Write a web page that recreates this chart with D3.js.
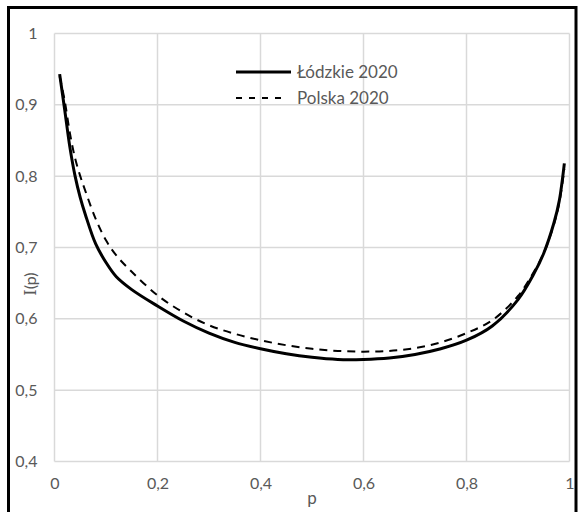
<!DOCTYPE html>
<html>
<head>
<meta charset="utf-8">
<script src="https://cdn.jsdelivr.net/npm/d3@7"></script>
<style>
  html, body { margin: 0; padding: 0; background: #fff; }
  svg { display: block; }
  text { font-family: Lato, "Open Sans", sans-serif; fill: #595959; }
</style>
</head>
<body>
<svg id="chart" width="578" height="512"></svg>
<script>
// Share of population p (x) and index value I(p) (y)
const pLodzkie = [0.01, 0.02, 0.03, 0.04, 0.05, 0.06, 0.08, 0.10, 0.12, 0.15, 0.20, 0.25, 0.30, 0.35, 0.40, 0.45, 0.50, 0.55, 0.60, 0.65, 0.70, 0.75, 0.80, 0.85, 0.90, 0.93, 0.95, 0.97, 0.98, 0.99];
const iLodzkie = [0.943, 0.892, 0.840, 0.800, 0.770, 0.746, 0.705, 0.679, 0.659, 0.641, 0.618, 0.597, 0.580, 0.567, 0.558, 0.551, 0.546, 0.543, 0.543, 0.545, 0.550, 0.558, 0.570, 0.590, 0.627, 0.662, 0.692, 0.735, 0.765, 0.818];

const pPolska = [0.01, 0.02, 0.03, 0.04, 0.05, 0.06, 0.08, 0.10, 0.12, 0.15, 0.20, 0.25, 0.30, 0.35, 0.40, 0.45, 0.50, 0.55, 0.60, 0.65, 0.70, 0.75, 0.80, 0.85, 0.90, 0.93, 0.95, 0.97, 0.98, 0.99];
const iPolska = [0.940, 0.905, 0.860, 0.825, 0.800, 0.779, 0.740, 0.710, 0.689, 0.666, 0.633, 0.609, 0.591, 0.579, 0.570, 0.563, 0.558, 0.555, 0.554, 0.555, 0.559, 0.567, 0.580, 0.598, 0.632, 0.665, 0.692, 0.733, 0.762, 0.810];

const xTicks = [0, 0.2, 0.4, 0.6, 0.8, 1];
const yTicks = [0.4, 0.5, 0.6, 0.7, 0.8, 0.9, 1];
const seriesNames = ["Łódzkie 2020", "Polska 2020"];

const svg = d3.select("#chart");
const plotLeft = 54.5, plotRight = 569.5, plotTop = 33.5, plotBottom = 461.5;

const x = d3.scaleLinear().domain([0, 1]).range([plotLeft, plotRight]);
const y = d3.scaleLinear().domain([0.4, 1]).range([plotBottom, plotTop]);
const fmt = v => String(v).replace(".", ",");

// Outer frame
svg.append("rect")
  .attr("x", 8.5).attr("y", 7.5).attr("width", 567.5).attr("height", 520)
  .attr("fill", "none").attr("stroke", "#000").attr("stroke-width", 3);

// Gridlines
const grid = svg.append("g").attr("stroke", "#d9d9d9").attr("stroke-width", 1.5);
grid.selectAll("line.v").data(xTicks).join("line").attr("class", "v")
  .attr("x1", d => x(d)).attr("x2", d => x(d)).attr("y1", plotTop).attr("y2", plotBottom);
grid.selectAll("line.h").data(yTicks).join("line").attr("class", "h")
  .attr("x1", plotLeft).attr("x2", plotRight).attr("y1", d => y(d)).attr("y2", d => y(d));

// Axes (labels only)
const yAxis = svg.append("g").attr("transform", `translate(${plotLeft},0)`)
  .call(d3.axisLeft(y).tickValues(yTicks).tickFormat(fmt).tickSize(0).tickPadding(17));
yAxis.select(".domain").remove();
yAxis.selectAll("text").style("font-size", "16px").attr("fill", "#595959")
  .style("font-family", "Lato, 'Open Sans', sans-serif");

const xAxis = svg.append("g").attr("transform", `translate(0,${plotBottom})`)
  .call(d3.axisBottom(x).tickValues(xTicks).tickFormat(fmt).tickSize(0).tickPadding(16));
xAxis.select(".domain").remove();
xAxis.selectAll("text").style("font-size", "16px").attr("fill", "#595959")
  .style("font-family", "Lato, 'Open Sans', sans-serif");

// Axis titles
svg.append("text").attr("x", 312).attr("y", 504).attr("text-anchor", "middle")
  .style("font-size", "17px").text("p");
svg.append("text").attr("transform", "translate(36,284) rotate(-90)")
  .attr("text-anchor", "middle").style("font-size", "16px")
  .style("font-family", "'DejaVu Serif', serif").text("I")
  .append("tspan").style("font-family", "Lato, 'Open Sans', sans-serif").text("(p)");

// Curves
const line = d3.line().x(d => x(d[0])).y(d => y(d[1])).curve(d3.curveCatmullRom.alpha(0.5));
svg.append("path").datum(d3.zip(pPolska, iPolska))
  .attr("d", line).attr("fill", "none").attr("stroke", "#000")
  .attr("stroke-width", 2).attr("stroke-dasharray", "8,6");
svg.append("path").datum(d3.zip(pLodzkie, iLodzkie))
  .attr("d", line).attr("fill", "none").attr("stroke", "#000")
  .attr("stroke-width", 3);

// Legend
const legend = svg.append("g");
legend.append("line").attr("x1", 236).attr("x2", 291).attr("y1", 72).attr("y2", 72)
  .attr("stroke", "#000").attr("stroke-width", 3);
legend.append("line").attr("x1", 236).attr("x2", 288).attr("y1", 98).attr("y2", 98)
  .attr("stroke", "#000").attr("stroke-width", 2).attr("stroke-dasharray", "6,7");
legend.selectAll("text").data(seriesNames).join("text")
  .attr("x", 297).attr("y", (d, i) => 72 + i * 26).attr("dy", "0.35em")
  .style("font-size", "17px").text(d => d);
</script>
</body>
</html>
